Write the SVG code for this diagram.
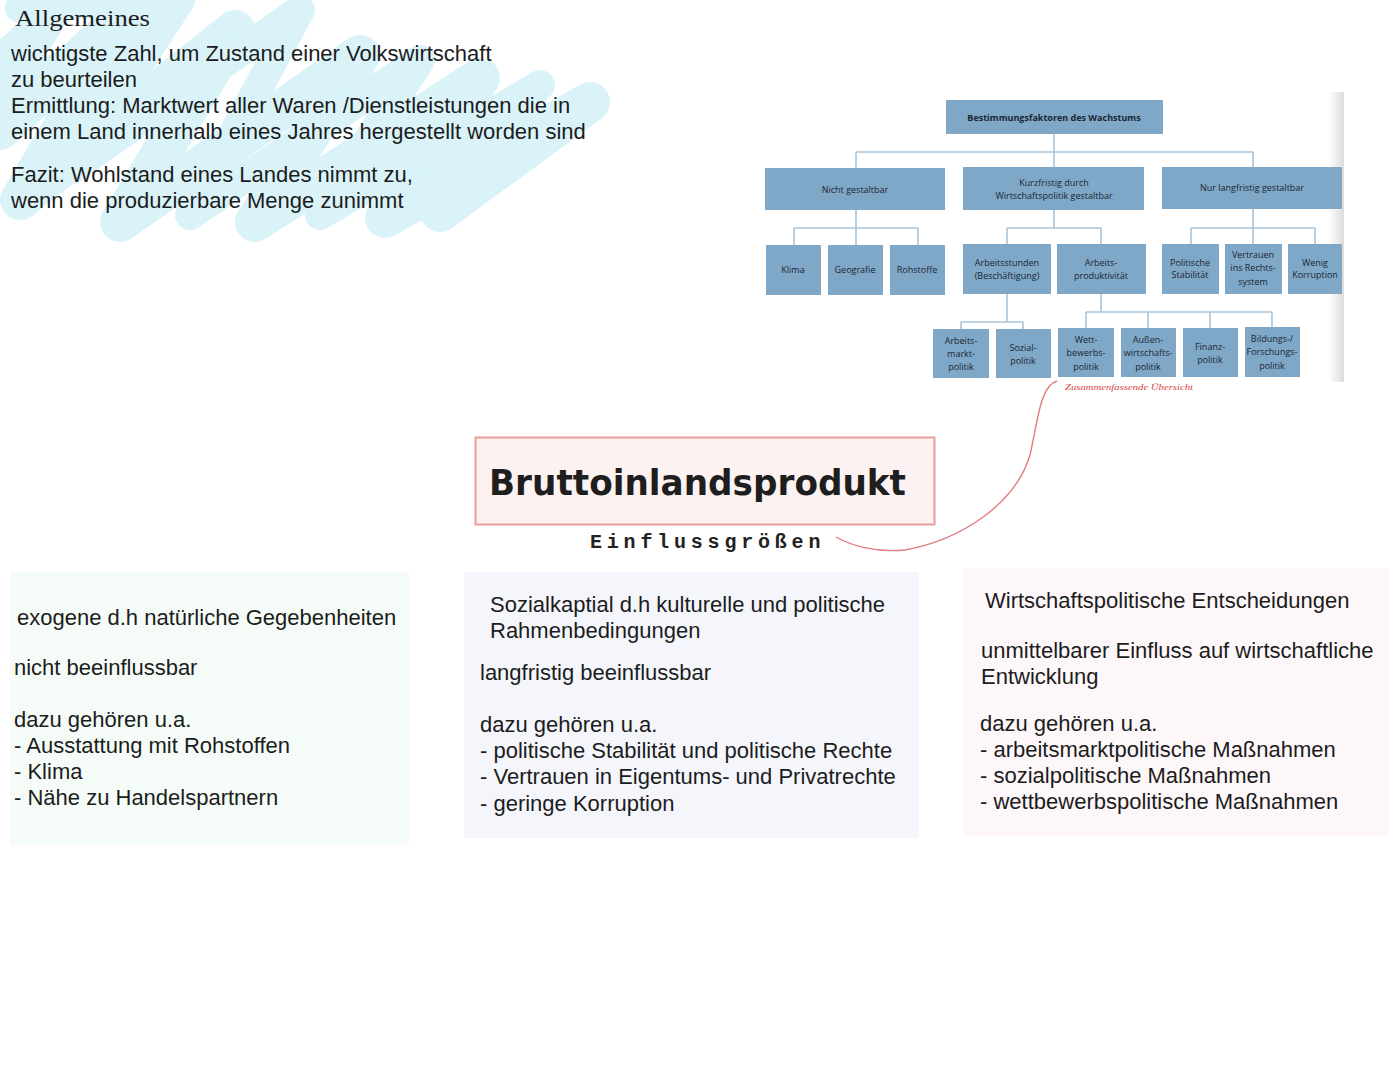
<svg xmlns="http://www.w3.org/2000/svg" width="1394" height="1080" viewBox="0 0 1394 1080">
<defs>
<style>
.t{font-family:"Liberation Sans",Arial,sans-serif;font-size:22px;fill:#1c1c1c}
.ob{fill:#7fa8c8}
.ot{font-family:"Open Sans","Noto Sans",sans-serif;font-size:9px;fill:#1b2633;text-anchor:middle}
.ol{fill:none;stroke:#a9c3d8;stroke-width:1.6}
.sc{fill:none;stroke:#d9f3f9;stroke-linecap:round;stroke-linejoin:round}
</style>
<linearGradient id="edge" x1="0" x2="1" y1="0" y2="0">
<stop offset="0" stop-color="#ffffff"/>
<stop offset="1" stop-color="#dcdcdc"/>
</linearGradient>
</defs>
<rect width="1394" height="1080" fill="#ffffff"/>

<g id="scribble">
<polyline class="sc" stroke-width="40" points="0,130 130,12 20,200 235,30 120,222 360,55 255,222 480,78 385,218 590,102 440,212"/>
<polyline class="sc" stroke-width="30" points="0,60 60,5 0,100 180,0 70,170 300,10 190,215 420,60 320,215 540,85 420,200"/>
<polyline class="sc" stroke-width="30" points="20,8 150,0"/>
</g>

<g id="allgemeines">
<text x="15" y="26" textLength="135" lengthAdjust="spacingAndGlyphs" style="font-family:'Liberation Serif','Times New Roman',serif;font-size:24px;fill:#1c1c1c">Allgemeines</text>
<text class="t" x="11" y="61">wichtigste Zahl, um Zustand einer Volkswirtschaft</text>
<text class="t" x="11" y="87">zu beurteilen</text>
<text class="t" x="11" y="113">Ermittlung: Marktwert aller Waren /Dienstleistungen die in</text>
<text class="t" x="11" y="139">einem Land innerhalb eines Jahres hergestellt worden sind</text>
<text class="t" x="11" y="182">Fazit: Wohlstand eines Landes nimmt zu,</text>
<text class="t" x="11" y="208">wenn die produzierbare Menge zunimmt</text>
</g>

<g id="orgchart">
<rect x="1328" y="92" width="16" height="290" fill="url(#edge)"/>
<g id="org-lines">
<path class="ol" d="M1054,134V152 M856,152H1253 M856,152V168 M1054,152V167 M1253,152V167"/>
<path class="ol" d="M856,210V228 M794,228H918 M794,228V245 M856,228V245 M918,228V245"/>
<path class="ol" d="M1054,210V228 M1007,228H1101 M1007,228V244 M1101,228V244"/>
<path class="ol" d="M1253,209V228 M1191,228H1315 M1191,228V244 M1253,228V244 M1315,228V244"/>
<path class="ol" d="M1007,294V322 M961,322H1023 M961,322V329 M1023,322V329"/>
<path class="ol" d="M1101,294V312 M1086,312H1272 M1086,312V328 M1148,312V328 M1210,312V328 M1272,312V327"/>
</g>
<g id="n-top"><rect class="ob" x="946" y="100" width="217" height="34"/><text class="ot" x="1054" y="121" font-weight="bold">Bestimmungsfaktoren des Wachstums</text></g>
<g id="n-nicht"><rect class="ob" x="765" y="168" width="180" height="42"/><text class="ot" x="855" y="193">Nicht gestaltbar</text></g>
<g id="n-kurz"><rect class="ob" x="963" y="167" width="181" height="43"/><text class="ot" x="1054" y="186">Kurzfristig durch</text><text class="ot" x="1054" y="199">Wirtschaftspolitik gestaltbar</text></g>
<g id="n-lang"><rect class="ob" x="1162" y="167" width="180" height="42"/><text class="ot" x="1252" y="191">Nur langfristig gestaltbar</text></g>
<g id="n-klima"><rect class="ob" x="766" y="245" width="55" height="50"/><text class="ot" x="793" y="273">Klima</text></g>
<g id="n-geo"><rect class="ob" x="828" y="245" width="55" height="50"/><text class="ot" x="855" y="273">Geografie</text></g>
<g id="n-roh"><rect class="ob" x="890" y="245" width="55" height="50"/><text class="ot" x="917" y="273">Rohstoffe</text></g>
<g id="n-stunden"><rect class="ob" x="963" y="244" width="88" height="50"/><text class="ot" x="1007" y="266">Arbeitsstunden</text><text class="ot" x="1007" y="279">(Beschäftigung)</text></g>
<g id="n-prod"><rect class="ob" x="1057" y="244" width="89" height="50"/><text class="ot" x="1101" y="266">Arbeits-</text><text class="ot" x="1101" y="279">produktivität</text></g>
<g id="n-stab"><rect class="ob" x="1162" y="244" width="57" height="50"/><text class="ot" x="1190" y="266">Politische</text><text class="ot" x="1190" y="278">Stabilität</text></g>
<g id="n-vertrauen"><rect class="ob" x="1225" y="244" width="57" height="50"/><text class="ot" x="1253" y="258">Vertrauen</text><text class="ot" x="1253" y="271">ins Rechts-</text><text class="ot" x="1253" y="285">system</text></g>
<g id="n-korr"><rect class="ob" x="1288" y="244" width="54" height="50"/><text class="ot" x="1315" y="266">Wenig</text><text class="ot" x="1315" y="278">Korruption</text></g>
<g id="n-amp"><rect class="ob" x="933" y="329" width="56" height="49"/><text class="ot" x="961" y="344">Arbeits-</text><text class="ot" x="961" y="357">markt-</text><text class="ot" x="961" y="370">politik</text></g>
<g id="n-soz"><rect class="ob" x="996" y="329" width="55" height="49"/><text class="ot" x="1023" y="351">Sozial-</text><text class="ot" x="1023" y="364">politik</text></g>
<g id="n-wett"><rect class="ob" x="1058" y="328" width="56" height="49"/><text class="ot" x="1086" y="343">Wett-</text><text class="ot" x="1086" y="356">bewerbs-</text><text class="ot" x="1086" y="370">politik</text></g>
<g id="n-aussen"><rect class="ob" x="1121" y="328" width="55" height="49"/><text class="ot" x="1148" y="343">Außen-</text><text class="ot" x="1148" y="356">wirtschafts-</text><text class="ot" x="1148" y="370">politik</text></g>
<g id="n-fin"><rect class="ob" x="1183" y="328" width="55" height="49"/><text class="ot" x="1210" y="350">Finanz-</text><text class="ot" x="1210" y="363">politik</text></g>
<g id="n-bild"><rect class="ob" x="1245" y="327" width="55" height="50"/><text class="ot" x="1272" y="342">Bildungs-/</text><text class="ot" x="1272" y="355">Forschungs-</text><text class="ot" x="1272" y="369">politik</text></g>
<text x="1065" y="390" textLength="128" lengthAdjust="spacingAndGlyphs" style="font-family:'Liberation Serif',serif;font-style:italic;font-size:8.5px;fill:#d9433f">Zusammenfassende Übersicht</text>
</g>

<g id="connectors">
<path d="M1057,381 C1040,386 1038,420 1030,455 C1015,505 960,540 905,550 C875,553 850,545 836,537" fill="none" stroke="#e07b80" stroke-width="1.4"/>
</g>

<g id="bip">
<rect x="475.5" y="437.5" width="459" height="87" fill="#fdf2f2" stroke="#eb9c9c" stroke-width="2"/>
<text x="489" y="495" textLength="417" lengthAdjust="spacingAndGlyphs" style="font-family:'DejaVu Sans',sans-serif;font-size:35px;font-weight:bold;fill:#1e1e1e">Bruttoinlandsprodukt</text>
<text x="590" y="548" style="font-family:'Liberation Mono','Courier New',monospace;font-size:20px;font-weight:bold;letter-spacing:4.8px;fill:#222">Einflussgrößen</text>
</g>

<g id="box-exogen">
<rect x="10" y="572" width="399" height="273" fill="#f5fcf7"/>
<text class="t" x="17" y="625">exogene d.h natürliche Gegebenheiten</text>
<text class="t" x="14" y="675">nicht beeinflussbar</text>
<text class="t" x="14" y="727">dazu gehören u.a.</text>
<text class="t" x="14" y="753">- Ausstattung mit Rohstoffen</text>
<text class="t" x="14" y="779">- Klima</text>
<text class="t" x="14" y="805">- Nähe zu Handelspartnern</text>
</g>

<g id="box-sozial">
<rect x="464" y="572" width="455" height="266" fill="#f4f6fb"/>
<text class="t" x="490" y="612">Sozialkaptial d.h kulturelle und politische</text>
<text class="t" x="490" y="638">Rahmenbedingungen</text>
<text class="t" x="480" y="680">langfristig beeinflussbar</text>
<text class="t" x="480" y="732">dazu gehören u.a.</text>
<text class="t" x="480" y="758">- politische Stabilität und politische Rechte</text>
<text class="t" x="480" y="784">- Vertrauen in Eigentums- und Privatrechte</text>
<text class="t" x="480" y="811">- geringe Korruption</text>
</g>

<g id="box-wirtschaft">
<rect x="963" y="568" width="426" height="268" fill="#fdf7f9"/>
<text class="t" x="985" y="608">Wirtschaftspolitische Entscheidungen</text>
<text class="t" x="981" y="658">unmittelbarer Einfluss auf wirtschaftliche</text>
<text class="t" x="981" y="684">Entwicklung</text>
<text class="t" x="980" y="731">dazu gehören u.a.</text>
<text class="t" x="980" y="757">- arbeitsmarktpolitische Maßnahmen</text>
<text class="t" x="980" y="783">- sozialpolitische Maßnahmen</text>
<text class="t" x="980" y="809">- wettbewerbspolitische Maßnahmen</text>
</g>
</svg>
